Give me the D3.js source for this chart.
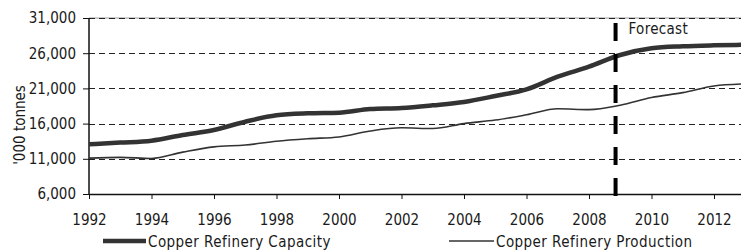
<!DOCTYPE html>
<meta charset="utf-8">
<script src="https://d3js.org/d3.v7.min.js"></script>
<style>
    body { margin: 0; background: #fff; }
    text {
        font-family: "DejaVu Sans Condensed", "DejaVu Sans", sans-serif;
        font-stretch: condensed;
        font-size: 15px;
        fill: #1a1a1a;
    }
    .legend text { letter-spacing: 0.45px; }
    .grid line { stroke: #222; stroke-width: 1; stroke-dasharray: 6 4; }
    .capacity { fill: none; stroke: #333; stroke-width: 4.5; }
    .production { fill: none; stroke: #333; stroke-width: 1.6; }
    .forecast { stroke: #000; stroke-width: 4; stroke-dasharray: 18 13; }
</style>
<div id="chart"></div>
<script>
// data ('000 tonnes)
const years = [1992, 1993, 1994, 1995, 1996, 1997, 1998, 1999, 2000, 2001, 2002,
               2003, 2004, 2005, 2006, 2007, 2008, 2009, 2010, 2011, 2012, 2013];
const capacity = [13060, 13300, 13570, 14380, 15090, 16270, 17180, 17460, 17550, 18070, 18220,
                  18600, 19070, 19920, 20870, 22660, 24080, 25740, 26690, 26980, 27120, 27200];
const production = [11100, 11200, 11050, 11950, 12700, 12950, 13500, 13850, 14100, 14950, 15400,
                    15300, 16000, 16500, 17250, 18100, 17980, 18600, 19700, 20400, 21350, 21650];
const yTicks = [6000, 11000, 16000, 21000, 26000, 31000];
const xTicks = [1992, 1994, 1996, 1998, 2000, 2002, 2004, 2006, 2008, 2010, 2012];
const forecastYear = 2008.85;
const seriesNames = ["Copper Refinery Capacity", "Copper Refinery Production"];

const W = 741, H = 252;
const margin = {top: 18, right: 0, bottom: 58, left: 89};
const width = W - margin.left - margin.right,
      height = H - margin.top - margin.bottom;

const svg = d3.select("#chart").append("svg")
    .attr("width", W).attr("height", H);

const g = svg.append("g")
    .attr("transform", "translate(" + margin.left + "," + margin.top + ")");

const x = d3.scaleLinear().domain([1992, 1992 + width / 31.25]).range([0, width]);
const y = d3.scaleLinear().domain([6000, 31000]).range([height, 0]);

svg.append("clipPath").attr("id", "clip")
    .append("rect").attr("x", 0).attr("y", -10).attr("width", width).attr("height", height + 20);

// top border: grey solid under the dashes
g.append("line")
    .attr("x1", 0).attr("x2", width)
    .attr("y1", y(31000)).attr("y2", y(31000))
    .attr("stroke", "#999").attr("stroke-width", 1.2);

// dashed gridlines
g.append("g").attr("class", "grid")
    .selectAll("line")
    .data(yTicks.filter(d => d > 6000))
    .join("line")
    .attr("x1", 0).attr("x2", width)
    .attr("y1", d => Math.round(y(d)) + 0.5).attr("y2", d => Math.round(y(d)) + 0.5);

// axes
const yAxis = g.append("g")
    .call(d3.axisLeft(y).tickValues(yTicks).tickFormat(d3.format(",")).tickSize(6).tickPadding(7));
const xAxis = g.append("g")
    .attr("transform", "translate(0," + height + ")")
    .call(d3.axisBottom(x).tickValues(xTicks).tickFormat(d3.format("d")).tickSize(5).tickPadding(15).tickSizeOuter(0));

[yAxis, xAxis].forEach(a => {
    a.select(".domain").attr("stroke", "#111").attr("stroke-width", 1.5);
    a.selectAll(".tick line").attr("stroke", "#111");
    a.selectAll(".tick text").attr("fill", "#1a1a1a")
        .style("font-size", "15px")
        .style("font-family", "\"DejaVu Sans Condensed\", \"DejaVu Sans\", sans-serif");
});
yAxis.select(".domain").attr("d", "M0," + height + "V0");

// lines
const rows = years.map((yr, i) => ({year: yr, cap: capacity[i], prod: production[i]}));

const capLine = d3.line().curve(d3.curveMonotoneX)
    .x(d => x(d.year)).y(d => y(d.cap));
const prodLine = d3.line().curve(d3.curveMonotoneX)
    .x(d => x(d.year)).y(d => y(d.prod));

const lines = g.append("g").attr("clip-path", "url(#clip)");
lines.append("path").datum(rows).attr("class", "production").attr("d", prodLine);
lines.append("path").datum(rows).attr("class", "capacity").attr("d", capLine);

// forecast marker
g.append("line").attr("class", "forecast")
    .attr("x1", x(forecastYear)).attr("x2", x(forecastYear))
    .attr("y1", 5).attr("y2", height + 6);

g.append("text")
    .attr("x", x(forecastYear) + 13).attr("y", 16)
    .style("letter-spacing", "0.3px")
    .text("Forecast");

// y title
svg.append("text")
    .attr("transform", "translate(25," + (margin.top + height / 2 + 19) + ") rotate(-90)")
    .attr("text-anchor", "middle")
    .text("'000 tonnes");

// legend
const legend = svg.append("g").attr("class", "legend");
const legendItems = [
    {name: seriesNames[0], x1: 103, x2: 146, cls: "capacity"},
    {name: seriesNames[1], x1: 449, x2: 494, cls: "production"}
];
legendItems.forEach(d => {
    legend.append("line").attr("class", d.cls)
        .attr("x1", d.x1).attr("x2", d.x2).attr("y1", 241).attr("y2", 241);
    legend.append("text")
        .attr("x", d.x2 + 2).attr("y", 246.5)
        .text(d.name);
});
</script>
